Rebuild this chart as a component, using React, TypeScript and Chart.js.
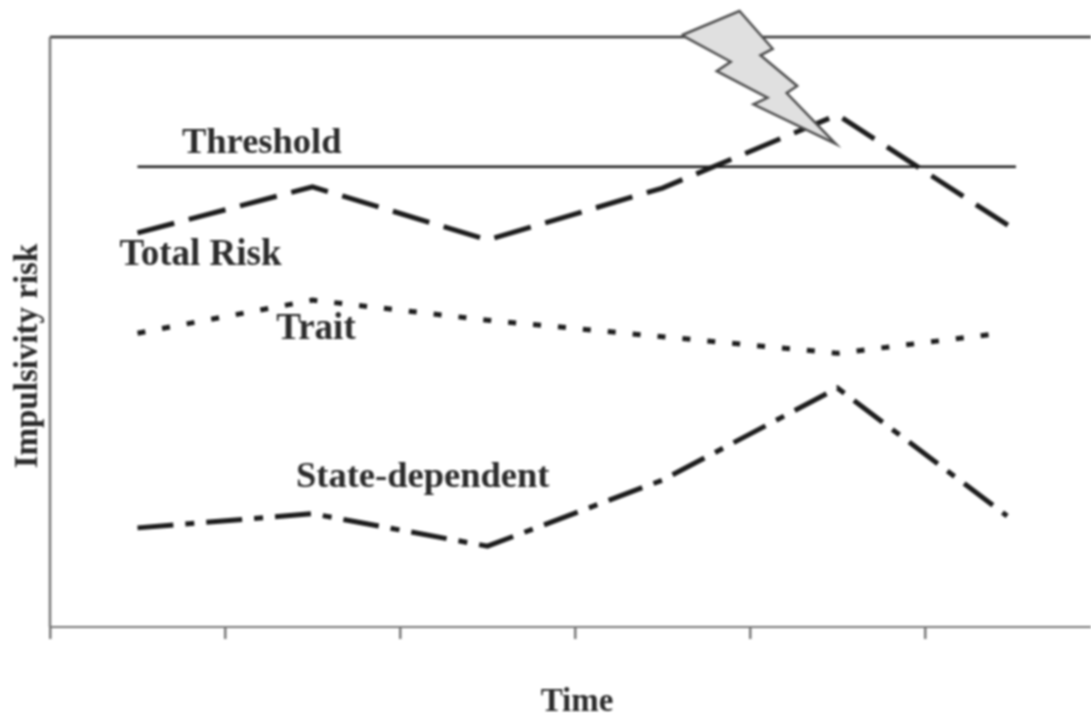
import React, { useEffect, useRef } from "react";
import { Chart, registerables } from "chart.js";

Chart.register(...registerables);

const timePoints = [0.5, 1.5, 2.5, 3.5, 4.5, 5.5];
const totalRisk = [66.8, 74.6, 65.6, 74.4, 86.8, 67.6];
const traitX = [0.5, 1.5, 2.5, 3.5, 4.5, 5.44];
const trait = [49.8, 55.4, 52, 49.2, 46.4, 49.8];
const stateX = [0.5, 1.5, 2.5, 3.5, 4.5, 5.47];
const stateDependent = [16.8, 19.2, 13.7, 24.9, 40.5, 18.8];
const thresholdX = [0.5, 5.52];
const thresholdY = [78, 78];
const boltX = [3.61, 3.94, 4.13, 4.06, 4.27, 4.21, 4.49, 4.02, 4.1, 3.81, 3.89, 3.61];
const boltY = [100.3, 104.4, 98, 96.9, 91.7, 90.5, 81.9, 88.6, 89.7, 94.2, 95.8, 100.3];
const axisX = [0, 0];
const axisY = [0, 100];
const frameTopX = [0, 5.949];
const frameTopY = [100, 100];

const zip = (xs: number[], ys: number[]) => xs.map((x, i) => ({ x, y: ys[i] }));

const FONT = '"Liberation Serif", "Times New Roman", serif';
const INK = "#2b2b2b";

const chartLabels = [
  { text: "Threshold", x: 1.21, y: 81.9, size: 36.5 },
  { text: "Total Risk", x: 0.86, y: 63.0, size: 37 },
  { text: "Trait", x: 1.52, y: 50.4, size: 37 },
  { text: "State-dependent", x: 2.13, y: 25.4, size: 36.5 },
];

const textPlugin = {
  id: "textLabels",
  afterDatasetsDraw(chart: any) {
    const { ctx, scales } = chart;
    ctx.save();
    ctx.fillStyle = INK;
    ctx.textAlign = "center";
    ctx.textBaseline = "middle";
    for (const l of chartLabels) {
      ctx.font = `bold ${l.size}px ${FONT}`;
      ctx.fillText(l.text, scales.x.getPixelForValue(l.x), scales.y.getPixelForValue(l.y));
    }
    ctx.font = `bold 33px ${FONT}`;
    ctx.fillText("Time", 577, 702);
    ctx.translate(28, 356);
    ctx.rotate(-Math.PI / 2);
    ctx.fillText("Impulsivity risk", 0, 0);
    ctx.restore();
  },
};

export default function App() {
  const ref = useRef<HTMLCanvasElement>(null);
  useEffect(() => {
    const line = (label: string, data: any[], borderWidth: number, borderDash: number[], color = "#1c1c1c") => ({
      label,
      data,
      borderColor: color,
      borderWidth,
      borderDash,
      pointRadius: 0,
      tension: 0,
      fill: false,
      clip: false as const,
    });
    const chart = new Chart(ref.current!, {
      type: "line",
      data: {
        datasets: [
          {
            label: "Stressor",
            data: zip(boltX, boltY),
            borderColor: "#4d4d4d",
            borderWidth: 2.5,
            backgroundColor: "#e0e0e0",
            pointRadius: 0,
            tension: 0,
            fill: "shape",
            clip: false as const,
          },
          line("Threshold", zip(thresholdX, thresholdY), 2.5, []),
          line("Total Risk", zip(timePoints, totalRisk), 5, [38, 15]),
          line("Trait", zip(traitX, trait), 5, [8, 17]),
          line("State-dependent", zip(stateX, stateDependent), 5, [36, 12, 9, 12]),
          line("Vertical axis", zip(axisX, axisY), 2.5, [], "#777"),
          line("Frame top", zip(frameTopX, frameTopY), 2.5, [], "#333"),
        ],
      },
      options: {
        animation: false,
        responsive: false,
        parsing: { xAxisKey: "x", yAxisKey: "y" },
        layout: { padding: { left: 50, top: 0, right: 0, bottom: 90 } },
        plugins: { legend: { display: false }, tooltip: { enabled: false } },
        scales: {
          x: {
            type: "linear",
            min: 0,
            max: 5.949,
            afterFit: (s: any) => { s.height = 0; },
            border: { color: "#777", width: 2 },
            grid: { drawOnChartArea: false, color: "#777", lineWidth: 2.5, tickLength: 12 },
            ticks: { display: false, stepSize: 1, includeBounds: false },
          },
          y: {
            min: 0,
            max: 106.27,
            afterFit: (s: any) => { s.width = 0; },
            border: { display: false },
            grid: { display: false },
            ticks: { display: false },
          },
        },
      } as any,
      plugins: [textPlugin],
    });
    return () => chart.destroy();
  }, []);
  return (
    <canvas
      ref={ref}
      width={1091}
      height={717}
      style={{ position: "absolute", left: 0, top: 0, display: "block", filter: "blur(0.9px)" }}
    />
  );
}
